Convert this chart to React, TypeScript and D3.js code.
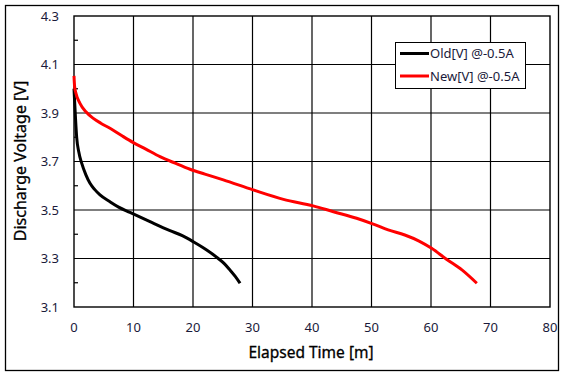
import React from "react";
import * as d3 from "d3";

const oldT = [0, 0.1, 0.25, 0.45, 0.8, 1.29, 2.0, 2.69, 3.5, 4.37, 6.05, 7.5, 9.41, 12.77, 16.13, 18.2, 20.05, 22.3, 24.25, 25.3, 26.2, 27.1, 27.9];
const oldV = [4.0, 3.95, 3.88, 3.8, 3.74, 3.693, 3.645, 3.61, 3.584, 3.562, 3.534, 3.512, 3.49, 3.452, 3.415, 3.394, 3.369, 3.335, 3.3, 3.278, 3.253, 3.226, 3.198];
const newT = [0, 0.1, 0.34, 1.0, 2.0, 3.25, 4.5, 6.05, 8.0, 9.97, 12.0, 14.45, 17.0, 19.5, 22.0, 25.1, 30.1, 35.2, 40.2, 43.6, 47.5, 50.3, 52.8, 55.6, 58.0, 60.1, 62.6, 65.2, 67.7];
const newV = [4.053, 4.01, 3.98, 3.94, 3.905, 3.878, 3.858, 3.837, 3.807, 3.778, 3.752, 3.72, 3.693, 3.668, 3.648, 3.624, 3.583, 3.544, 3.517, 3.493, 3.466, 3.442, 3.418, 3.397, 3.372, 3.342, 3.297, 3.253, 3.198];
const xTicks = [0, 10, 20, 30, 40, 50, 60, 70, 80];
const yTicks = [3.1, 3.3, 3.5, 3.7, 3.9, 4.1, 4.3];
const yMinor = [3.2, 3.4, 3.6, 3.8, 4.0, 4.2];
const seriesNames = ["Old[V] @-0.5A", "New[V] @-0.5A"];
const seriesColors = ["#000000", "#ff0000"];

export default function App() {
  const W = 566, H = 377;
  const L = 74, R = 550, T = 16, B = 307;
  const x = d3.scaleLinear().domain([0, 80]).range([L, R]);
  const y = d3.scaleLinear().domain([3.1, 4.3]).range([B, T]);
  const line = d3.line<[number, number]>().x(d => x(d[0])).y(d => y(d[1])).curve(d3.curveMonotoneX);
  const oldData = oldT.map((t, i) => [t, oldV[i]] as [number, number]);
  const newData = newT.map((t, i) => [t, newV[i]] as [number, number]);
  const font = "'Noto Sans', sans-serif";
  return (
    <svg width={W} height={H} style={{ position: "absolute", left: 0, top: 0 }}>
      <rect x={0} y={0} width={W} height={H} fill="#fff" />
      <rect x={5.5} y={5.5} width={553} height={365} fill="none" stroke="#000" strokeWidth={1.3} />
      {xTicks.slice(1, -1).map(t => (
        <line key={"gx" + t} x1={x(t)} x2={x(t)} y1={T} y2={B} stroke="#000" strokeWidth={1.2} />
      ))}
      {yTicks.slice(1, -1).map(t => (
        <line key={"gy" + t} x1={L} x2={R} y1={y(t)} y2={y(t)} stroke="#000" strokeWidth={1.2} />
      ))}
      {yMinor.map(t => (
        <line key={"mn" + t} x1={L} x2={L + 4} y1={y(t)} y2={y(t)} stroke="#000" strokeWidth={1.2} />
      ))}
      <rect x={L} y={T} width={R - L} height={B - T} fill="none" stroke="#000" strokeWidth={1.4} />
      <path d={line(oldData) || ""} fill="none" stroke={seriesColors[0]} strokeWidth={3} strokeLinejoin="round" />
      <path d={line(newData) || ""} fill="none" stroke={seriesColors[1]} strokeWidth={3} strokeLinejoin="round" />
      {yTicks.map(t => (
        <text key={"yl" + t} x={59} y={y(t)} dy="0.35em" textAnchor="end" fontFamily={font} fontSize={13} fill="#1a1a3a">
          {t.toFixed(1)}
        </text>
      ))}
      {xTicks.map(t => (
        <text key={"xl" + t} x={x(t)} y={327} dy="0.35em" textAnchor="middle" fontFamily={font} fontSize={13} fill="#1a1a3a">
          {t}
        </text>
      ))}
      <text x={311} y={353} dy="0.35em" textAnchor="middle" fontFamily={font} fontSize={15.5} fill="#000" stroke="#000" strokeWidth={0.3}>
        Elapsed Time [m]
      </text>
      <text transform={`translate(20,161) rotate(-90)`} dy="0.35em" textAnchor="middle" fontFamily={font} fontSize={16} fill="#000" stroke="#000" strokeWidth={0.3}>
        Discharge Voltage [V]
      </text>
      <rect x={395.5} y={42.5} width={130} height={46} fill="#fff" stroke="#000" strokeWidth={1} />
      {seriesNames.map((n, i) => (
        <g key={n}>
          <line x1={400} x2={429} y1={53.5 + i * 22.5} y2={53.5 + i * 22.5} stroke={seriesColors[i]} strokeWidth={3} />
          <text x={430} y={53.5 + i * 22.5} dy="0.35em" fontFamily={font} fontSize={13} fill="#1a1a3a">{n}</text>
        </g>
      ))}
    </svg>
  );
}
